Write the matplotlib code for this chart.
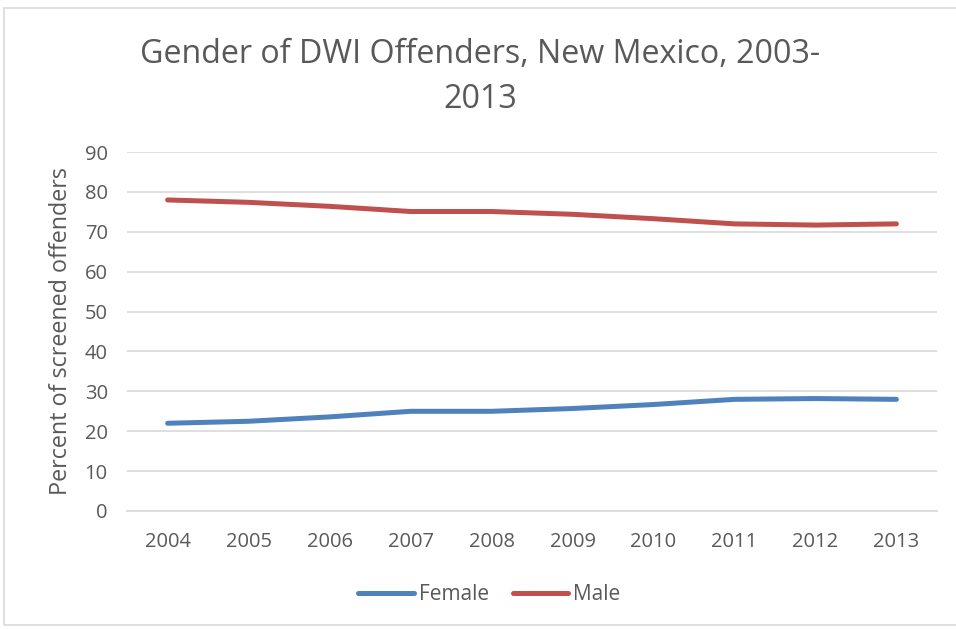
import matplotlib.pyplot as plt
from matplotlib.patches import Rectangle

years = ["2004", "2005", "2006", "2007", "2008", "2009", "2010", "2011", "2012", "2013"]
female = [22.0, 22.5, 23.6, 25.0, 25.0, 25.7, 26.7, 28.0, 28.2, 28.0]
male = [78.0, 77.4, 76.4, 75.1, 75.1, 74.4, 73.3, 72.0, 71.7, 72.0]

plt.rcParams['font.family'] = ['Open Sans', 'DejaVu Sans']
text_color = '#595959'
grid_color = '#d9d9d9'

fig = plt.figure(figsize=(9.56, 6.29), dpi=100)
ax = fig.add_axes([0.133, 0.1876, 0.847, 0.5706])

x = range(len(years))
ax.plot(x, female, color='#4f81bd', linewidth=3.6, solid_capstyle='round', label='Female')
ax.plot(x, male, color='#c0504d', linewidth=3.6, solid_capstyle='round', label='Male')

ax.set_xlim(-0.5, len(years) - 0.5)
ax.set_ylim(0, 90)
ax.set_yticks(range(0, 91, 10))
ax.set_xticks(list(x))
ax.set_xticklabels(years)
ax.tick_params(length=0, labelsize=14.5, colors=text_color)
ax.tick_params(axis='x', pad=15)
ax.tick_params(axis='y', pad=14)
ax.grid(axis='y', color=grid_color, linewidth=1.2)
ax.set_axisbelow(True)
for side in ['top', 'right', 'left']:
    ax.spines[side].set_visible(False)
ax.spines['bottom'].set_color(grid_color)
ax.spines['bottom'].set_linewidth(1.2)

ax.set_ylabel("Percent of screened offenders", fontsize=16.8, color=text_color, labelpad=8)

# title, two lines as in the original
fig.text(0.502, 1 - 63 / 629, "Gender of DWI Offenders, New Mexico, 2003-",
         ha='center', va='baseline', fontsize=23.2, color=text_color)
fig.text(0.502, 1 - 108 / 629, "2013",
         ha='center', va='baseline', fontsize=23.2, color=text_color)

leg = fig.legend(loc='center', bbox_to_anchor=(0.512, 1 - 595 / 629), ncol=2, frameon=False,
                 fontsize=15, handlelength=2.65, handletextpad=0.25, columnspacing=1.15)
for t in leg.get_texts():
    t.set_color(text_color)

# outer chart border
fig.patches.append(Rectangle((0.004, 0.006), 1.0, 0.981, transform=fig.transFigure,
                             fill=False, edgecolor=grid_color, linewidth=1.2))

fig.savefig("out.png", dpi=100)
